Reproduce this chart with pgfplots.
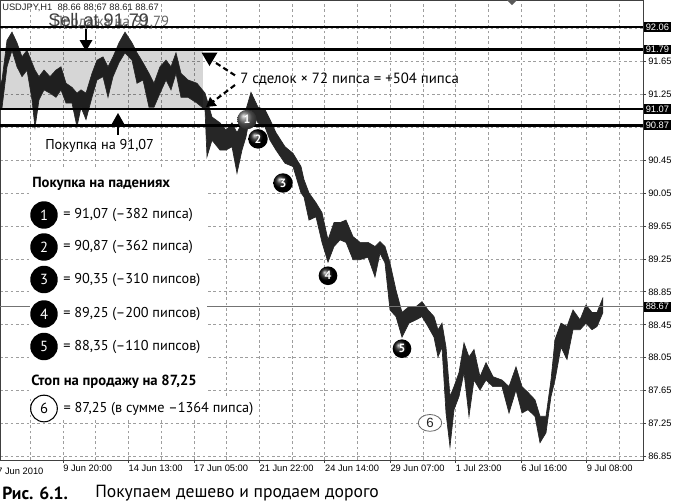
\documentclass[border=0pt]{standalone}
\usepackage{fontspec}
\setmainfont{PT Sans}
\newfontfamily\tickfont{Liberation Sans}
\usepackage{pgfplots}
\pgfplotsset{compat=1.18}
\usepgfplotslibrary{fillbetween}
\usepackage{pgfplotstable}
\usetikzlibrary{arrows.meta}

\pgfplotstableread{
x lo hi
0 91.06 91.36
2 91.08 91.42
7 91.58 91.90
12 91.78 92.00
17 91.58 91.87
22 91.46 91.70
27 91.54 91.78
32 91.18 91.63
35 90.84 91.54
39 91.18 91.46
44 91.30 91.54
50 91.26 91.46
56 91.21 91.54
61 91.30 91.58
66 91.14 91.38
72 91.14 91.33
77 90.85 91.26
81 91.09 91.30
86 90.94 91.26
92 91.21 91.50
97 91.42 91.66
103 91.46 91.70
108 91.21 91.58
113 91.46 91.70
119 91.63 91.87
125 91.75 92.00
132 91.66 91.87
137 91.38 91.75
143 91.42 91.63
149 91.09 91.50
154 91.09 91.38
160 91.26 91.58
166 91.42 91.66
171 91.30 91.58
176 91.50 91.75
181 91.21 91.50
188 91.21 91.42
197 91.14 91.38
205 91.06 91.26
207 90.49 91.18
212 90.69 90.97
220 90.57 90.90
226 90.57 90.81
232 90.61 90.90
237 90.29 90.78
242 90.57 90.90
246 90.73 91.06
251 91.06 91.27
258 90.90 91.09
265 90.85 91.06
270 90.69 90.94
276 90.57 90.78
285 90.41 90.61
293 90.37 90.53
301 90.05 90.37
304 90.00 90.21
309 89.72 90.05
316 89.76 89.93
322 89.45 89.81
328 89.21 89.48
334 89.40 89.69
340 89.48 89.69
346 89.45 89.72
353 89.24 89.52
360 89.24 89.45
368 89.27 89.45
375 89.03 89.40
380 89.32 89.46
385 89.20 89.40
390 88.63 89.20
396 88.55 88.87
402 88.30 88.60
409 88.47 88.67
416 88.51 88.67
422 88.55 88.73
428 88.43 88.63
434 88.30 88.55
438 88.06 88.39
442 88.18 88.47
446 87.38 88.18
450 86.97 87.58
454 87.42 87.70
459 87.58 87.87
464 87.87 88.23
469 87.34 88.06
474 87.78 88.15
480 87.66 87.82
486 87.78 87.99
493 87.70 87.82
502 87.70 87.78
509 87.38 87.70
516 87.66 87.94
522 87.38 87.70
528 87.42 87.63
535 87.34 87.54
540 87.02 87.34
546 87.14 87.34
551 87.58 87.78
555 87.78 88.27
561 88.18 88.47
567 88.03 88.43
573 88.39 88.63
580 88.39 88.51
586 88.47 88.69
592 88.39 88.60
597 88.43 88.60
603 88.60 88.78
}\price

\tikzset{pricebox/.style={fill=black, text=white, anchor=west, inner xsep=1.5pt, inner ysep=1.2pt, font=\tickfont\fontsize{7}{8}\selectfont},
  ballnum/.style={text=white, font=\bfseries\fontsize{9}{10}\selectfont}}

\begin{document}
\begin{tikzpicture}
\begin{axis}[
  at={(0,0)}, anchor=north west,
  scale only axis, width=482.25pt, height=345pt,
  xmin=0, xmax=643, ymin=86.81, ymax=92.39,
  axis line style={black!75, line width=0.6pt},
  xtick={63,128.45,193.9,259.35,324.8,390.25,455.7,521.15,586.6},
  xticklabels={9 Jun 20:00,14 Jun 13:00,17 Jun 05:00,21 Jun 22:00,24 Jun 14:00,29 Jun 07:00,1 Jul 23:00,6 Jul 16:00,9 Jul 08:00},
  minor xtick={30.3,95.7,161.2,226.6,292.1,357.5,423,488.4,553.9,619.3},
  ytick={86.85,87.25,87.65,88.05,88.45,88.85,89.25,89.65,90.05,90.45,90.85,91.25,91.65,92.05},
  yticklabels={86.85,87.25,87.65,88.05,88.45,88.85,89.25,89.65,90.05,90.45,,91.25,91.65,},
  ytick pos=right, xtick pos=bottom,
  tick align=outside, major tick length=2.25pt, minor tick length=0pt,
  tick style={black!75, line width=0.5pt},
  xmajorgrids, xminorgrids, ymajorgrids,
  grid style={black!38, dash pattern=on 2pt off 2pt, line width=0.5pt},
  minor grid style={black!38, dash pattern=on 2pt off 2pt, line width=0.5pt},
  xticklabel style={font=\tickfont\fontsize{7}{8}\selectfont, anchor=north west, inner sep=1pt, xshift=-1pt, yshift=-0.3pt},
  yticklabel style={font=\tickfont\fontsize{7}{8}\selectfont, anchor=west, inner sep=1.5pt},
  clip=false,
]
% grey zone
\fill[black, fill opacity=0.16] (axis cs:0,91.07) rectangle (axis cs:203,91.79);
% price band
\addplot[draw=black!85, line width=0.5pt, name path=H] table[x=x,y=hi]{\price};
\addplot[draw=black!85, line width=0.5pt, name path=L] table[x=x,y=lo]{\price};
\addplot[black!85] fill between[of=H and L];
% horizontal levels
\draw[black!55, line width=0.6pt] (axis cs:0,88.67) -- (axis cs:643,88.67);
\draw[black, line width=1.8pt] (axis cs:0,92.06) -- (axis cs:643,92.06);
\draw[black, line width=1.8pt] (axis cs:0,91.79) -- (axis cs:643,91.79);
\draw[black, line width=1.8pt] (axis cs:0,91.07) -- (axis cs:643,91.07);
\draw[black, line width=1.8pt] (axis cs:0,90.87) -- (axis cs:643,90.87);
\node[pricebox] at (axis cs:643.5,92.06) {92.06};
\node[pricebox] at (axis cs:643.5,91.79) {91.79};
\node[pricebox] at (axis cs:643.5,91.07) {91.07};
\node[pricebox] at (axis cs:643.5,90.87) {90.87};
\node[pricebox] at (axis cs:643.5,88.67) {88.67};
% chart markers
\shade[ball color=black!60] (axis cs:247,90.94) circle[radius=7.3pt];
\node[ballnum] at (axis cs:247,90.94) {1};
\shade[ball color=black] (axis cs:258,90.705) circle[radius=7.3pt];
\node[ballnum] at (axis cs:258,90.705) {2};
\shade[ball color=black] (axis cs:283,90.17) circle[radius=7.3pt];
\node[ballnum] at (axis cs:283,90.17) {3};
\shade[ball color=black] (axis cs:328,89.045) circle[radius=7pt];
\node[ballnum] at (axis cs:328,89.045) {4};
\shade[ball color=black] (axis cs:402,88.16) circle[radius=7pt];
\node[ballnum] at (axis cs:402,88.16) {5};
\draw[black!60, fill=white, line width=0.6pt] (axis cs:430,87.26) ellipse[x radius=8.8pt, y radius=6.3pt];
\node[text=black!85, font=\tickfont\fontsize{10}{11}\selectfont] at (axis cs:430,87.26) {6};
\end{axis}

\begin{scope}[x=0.75pt, y=-0.75pt]
\node[anchor=west, inner sep=0, font=\tickfont\fontsize{7}{8}\selectfont, text=black!85] at (2,8) {USDJPY,H1\ \ 88.66 88.67 88.61 88.67};
\node[anchor=west, inner sep=0, font=\fontsize{11}{12}\selectfont, text=black!60] at (53,23) {Продажа на 91,79};
\node[anchor=west, inner sep=0, font=\tickfont\fontsize{13.6}{15}\selectfont, text=black!75] at (48,20.5) {Sell at 91.79};
\fill[black!65] (507,0) -- (517,0) -- (512,5) -- cycle;
% arrows
\draw[black, line width=1.4pt] (86,29) -- (86,41);
\fill[black] (79.5,40) -- (92.5,40) -- (86,51) -- cycle;
\fill[black] (111.5,124.5) -- (124.5,124.5) -- (118,113) -- cycle;
\draw[black, line width=1.4pt] (118,124) -- (118,135);
\node[anchor=west, inner sep=0, font=\fontsize{10.7}{12}\selectfont] at (45,146) {Покупка на 91,07};
\fill[black] (201.5,52.5) -- (217.5,52.5) -- (209.5,66) -- cycle;
\draw[black, line width=1.6pt, dash pattern=on 4pt off 2.5pt] (216,63) -- (236,76);
\draw[black, line width=1.6pt, dash pattern=on 4pt off 2.5pt, -{Triangle[length=7pt,width=8pt]}] (235,85) -- (206,107);
\node[anchor=west, inner sep=0, font=\fontsize{11.1}{13}\selectfont] at (240,79) {7 сделок × 72 пипса = +504 пипса};
% legend block
\fill[white] (30,168) rectangle (207,398);
\node[anchor=west, inner sep=0, font=\bfseries\fontsize{11}{13}\selectfont] at (32,184) {Покупка на падениях};
\foreach \yy/\n/\t in {215/1/{= 91,07 (–382 пипса)},247/2/{= 90,87 (–362 пипса)},279.5/3/{= 90,35 (–310 пипсов)},314/4/{= 89,25 (–200 пипсов)},346.5/5/{= 88,35 (–110 пипсов)}}{
  \fill[black] (44,\yy) circle[radius=10.3pt];
  \node[text=white, font=\fontsize{11}{12}\selectfont] at (44,\yy) {\n};
  \node[anchor=west, inner sep=0, font=\fontsize{10.7}{12}\selectfont] at (63,\yy) {\t};
}
\node[anchor=west, inner sep=0, font=\bfseries\fontsize{11}{13}\selectfont] at (31,381.5) {Стоп на продажу на 87,25};
\node[anchor=west, fill=white, inner xsep=1pt, inner ysep=2pt, font=\fontsize{10.7}{12}\selectfont] at (62,408.5) {= 87,25 (в сумме –1364 пипса)};
\draw[black, fill=white, line width=0.8pt] (44,408.5) circle[radius=10pt];
\node[font=\fontsize{11}{12}\selectfont] at (44,408.5) {6};
% first date label and caption
\node[anchor=west, inner sep=0, font=\tickfont\fontsize{7}{8}\selectfont] at (-3,471.5) {7 Jun 2010};
\node[anchor=west, inner sep=0, font=\bfseries\fontsize{13.2}{15}\selectfont] at (2,493) {Рис. 6.1.};
\node[anchor=west, inner sep=0, font=\fontsize{13.2}{15}\selectfont] at (95,493) {Покупаем дешево и продаем дорого};
\end{scope}
\pgfresetboundingbox
\path[use as bounding box] (0,0) rectangle (507pt,-378pt);
\end{tikzpicture}
\end{document}
